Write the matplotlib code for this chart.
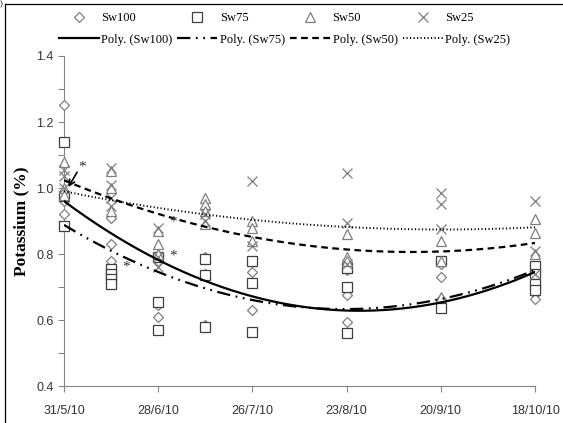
import numpy as np
import matplotlib
matplotlib.use("Agg")
import matplotlib.pyplot as plt
from matplotlib.lines import Line2D

# ---- data (days after 31/5/10) ----
days = [0, 14, 28, 42, 56, 84, 112, 140]
tick_days = [0, 28, 56, 84, 112, 140]
tick_labels = ["31/5/10", "28/6/10", "26/7/10", "23/8/10", "20/9/10", "18/10/10"]

sw100 = [[1.25, 0.97, 0.96, 0.92], [0.91, 0.83, 0.78], [0.78, 0.645, 0.61],
         [0.79, 0.74, 0.585], [0.745, 0.63, 0.565], [0.75, 0.70, 0.675, 0.595],
         [0.77, 0.73, 0.665], [0.76, 0.70, 0.68, 0.665]]
sw75 = [[1.14, 0.975, 0.885], [0.755, 0.74, 0.725, 0.71], [0.79, 0.655, 0.57],
        [0.785, 0.735, 0.58], [0.78, 0.712, 0.565], [0.757, 0.70, 0.56],
        [0.78, 0.635], [0.765, 0.74, 0.71, 0.69]]
sw50 = [[1.08, 1.0, 0.98], [1.05, 1.0, 0.93], [0.87, 0.83, 0.80],
        [0.97, 0.95, 0.93, 0.89], [0.90, 0.88, 0.84], [0.86, 0.79, 0.78],
        [0.84, 0.78, 0.67], [0.905, 0.865, 0.80]]
sw25 = [[1.055, 1.035, 1.0], [1.06, 1.01, 0.97, 0.945], [0.88, 0.79, 0.76],
        [0.92, 0.90], [1.02, 0.825], [1.045, 0.895, 0.77],
        [0.985, 0.95, 0.875], [0.96, 0.81, 0.74]]

series_names = ["Sw100", "Sw75", "Sw50", "Sw25"]
series_data = [sw100, sw75, sw50, sw25]
markers = ["D", "s", "^", "x"]
marker_sizes = [5.2, 7.2, 7.2, 7.5]
marker_colors = ["#7f7f7f", "#3f3f3f", "#7f7f7f", "#7f7f7f"]
line_styles = ["-", (0, (6, 2.5, 0.8, 2.5, 0.8, 2.5)), (0, (3, 2)), (0, (0.6, 1.2))]
line_widths = [1.6, 1.6, 1.6, 1.4]

# asterisk annotations (day, value)
star_pos = [(5.4, 1.064), (32.4, 0.897), (32.4, 0.794), (18.4, 0.76)]

W, H = 563, 423
fig = plt.figure(figsize=(W / 100, H / 100), dpi=100)
ax = fig.add_axes([64 / W, 1 - 386 / H, (535 - 64) / W, (386 - 56) / H])

marker_handles = []
line_handles = []
for name, data, m, ms, mc, ls, lw in zip(series_names, series_data, markers,
                                         marker_sizes, marker_colors, line_styles, line_widths):
    xs = np.concatenate([[d] * len(v) for d, v in zip(days, data)])
    ys = np.concatenate([v for v in data])
    if m == "x":
        h, = ax.plot(xs, ys, linestyle="none", marker=m, ms=ms, mec=mc, mew=0.9,
                     clip_on=False, zorder=3)
    else:
        h, = ax.plot(xs, ys, linestyle="none", marker=m, ms=ms, mfc="white", mec=mc,
                     mew=0.9, clip_on=False, zorder=3)
    marker_handles.append(h)
    coef = np.polyfit(xs, ys, 2)
    xx = np.linspace(min(days), max(days), 300)
    lh, = ax.plot(xx, np.polyval(coef, xx), color="black", linestyle=ls, lw=lw,
                  zorder=4, dash_capstyle="butt")
    line_handles.append(lh)

for (sx, sy) in star_pos:
    ax.text(sx, sy, "*", fontsize=11, family="Liberation Serif", color="#333333",
            ha="center", va="center", zorder=5)
ax.annotate("", xy=(1.3, 1.003), xytext=(3.9, 1.048),
            arrowprops=dict(arrowstyle="->", color="black", lw=1.2,
                            shrinkA=0, shrinkB=0, mutation_scale=10), zorder=6)

ax.set_xlim(0, 140)
ax.set_ylim(0.4, 1.4)
ax.set_xticks(tick_days)
ax.set_xticklabels(tick_labels)
ax.set_yticks(np.arange(0.4, 1.41, 0.1))
ax.set_yticklabels([f"{v:.1f}" if i % 2 == 0 else "" for i, v in enumerate(np.arange(0.4, 1.41, 0.1))])
for s in ["top", "right"]:
    ax.spines[s].set_visible(False)
for s in ["left", "bottom"]:
    ax.spines[s].set_color("#868686")
    ax.spines[s].set_linewidth(0.8)
ax.tick_params(axis="both", direction="out", length=4, width=0.8, color="#868686",
               labelsize=9, labelcolor="#333333")
ax.tick_params(axis="x", pad=10)
for lab in ax.get_xticklabels() + ax.get_yticklabels():
    lab.set_family("Liberation Sans")

ax.set_ylabel("Potassium (%)", family="Liberation Serif", fontweight="bold",
              fontsize=12.5, labelpad=5)

handles = []
labels = []
for mh, lh, n in zip(marker_handles, line_handles, series_names):
    handles += [mh, lh]
    labels += [n, f"Poly. ({n})"]
leg = fig.legend(handles, labels, ncol=4, loc="center", bbox_to_anchor=(0.505, 1 - 29 / H),
                 frameon=False, prop={"family": "Liberation Serif", "size": 9},
                 handlelength=3.2, handletextpad=0.2, columnspacing=0.4,
                 labelspacing=0.75)

# figure border (top and left)
fig.add_artist(Line2D([5 / W, 1], [1 - 4 / H, 1 - 4 / H], color="black", lw=0.9,
                      transform=fig.transFigure))
fig.add_artist(Line2D([5 / W, 5 / W], [0, 1 - 4 / H], color="black", lw=0.9,
                      transform=fig.transFigure))
fig.text(0.0, 1.0, ")", family="Liberation Serif", fontsize=6, ha="left", va="top")

fig.savefig("out.png", dpi=100)
